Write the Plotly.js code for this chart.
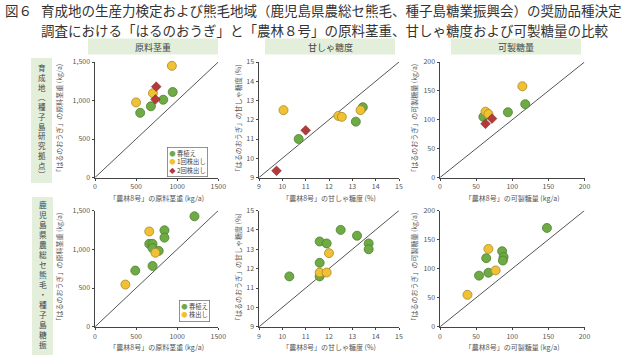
<!DOCTYPE html>
<html><head><meta charset="utf-8">
<script src="https://cdn.plot.ly/plotly-3.0.1.min.js"></script>
<style>html,body{margin:0;padding:0;background:#fff}#c{width:640px;height:355px}</style>
</head><body><div id="c"></div>
<script>
// ---- data ----
const weightRange = [0, 1500];
const brixRange = [9, 15];
const sugarRange = [0, 200];

// 育成地（種子島研究拠点）
const weightTopSpringX = [550, 680, 830, 945];
const weightTopSpringY = [840, 925, 1010, 1110];
const weightTopRatoon1X = [500, 705, 935];
const weightTopRatoon1Y = [975, 1095, 1450];
const weightTopRatoon2X = [745, 735];
const weightTopRatoon2Y = [1180, 1015];

const brixTopSpringX = [10.7, 13.15, 13.45];
const brixTopSpringY = [11.0, 11.9, 12.65];
const brixTopRatoon1X = [10.05, 12.4, 12.55, 13.35];
const brixTopRatoon1Y = [12.5, 12.2, 12.15, 12.5];
const brixTopRatoon2X = [11.0, 9.75];
const brixTopRatoon2Y = [11.45, 9.35];

const sugarTopSpringX = [60, 94, 118];
const sugarTopSpringY = [105, 113, 127];
const sugarTopRatoon1X = [63, 67, 114];
const sugarTopRatoon1Y = [114, 110, 158];
const sugarTopRatoon2X = [63, 72];
const sugarTopRatoon2Y = [93, 102];

// 鹿児島県農総セ熊毛・種子島糖振
const weightBotSpringX = [1210, 845, 845, 660, 700, 700, 775, 700, 490];
const weightBotSpringY = [1425, 1245, 1150, 1070, 1070, 1015, 980, 785, 725];
const weightBotRatoonX = [660, 735, 370];
const weightBotRatoonY = [1230, 955, 545];

const brixBotSpringX = [10.3, 11.6, 11.9, 11.6, 11.6, 12.5, 13.2, 13.7, 13.7];
const brixBotSpringY = [11.6, 13.4, 13.3, 12.3, 11.6, 14.0, 13.7, 13.3, 13.0];
const brixBotRatoonX = [12.0, 11.6, 11.9];
const brixBotRatoonY = [12.8, 11.8, 11.8];

const sugarBotSpringX = [148, 86, 88, 87, 64, 67, 54];
const sugarBotSpringY = [170, 130, 120, 114, 118, 93, 88];
const sugarBotRatoonX = [67, 77, 38];
const sugarBotRatoonY = [134, 97, 55];

const columnHeaders = ['原料茎重', '甘しゃ糖度', '可製糖量'];
const xTitles = ['「農林8号」の原料茎重 (kg/a)', '「農林8号」の甘しゃ糖度 (%)', '「農林8号」の可製糖量 (kg/a)'];
const yTitles = ['「はるのおうぎ」の原料茎重 (kg/a)', '「はるのおうぎ」の甘しゃ糖度 (%)', '「はるのおうぎ」の可製糖量 (kg/a)'];
const rowLabels = ['育成地︵種子島研究拠点︶', '鹿児島県農総セ熊毛・種子島糖振'];
const legendTop = ['春植え', '1回株出し', '2回株出し'];
const legendBot = ['春植え', '株出し'];
const figLabel = '図６';
const titleLine1 = '育成地の生産力検定および熊毛地域（鹿児島県農総セ熊毛、種子島糖業振興会）の奨励品種決定';
const titleLine2 = '調査における「はるのおうぎ」と「農林８号」の原料茎重、甘しゃ糖度および可製糖量の比較';

// ---- styles ----
const FONT = '"Noto Sans CJK JP", "Noto Sans", sans-serif';
const GREEN = '#6fab45', GREEN_L = '#4b7d2c';
const YELLOW = '#f0c233', YELLOW_L = '#a9862a';
const RED = '#b33a3a', RED_L = '#7a2424';
const BOX = '#e3efdb';

function circ(c, l) { return {symbol: 'circle', size: 9, color: c, line: {color: l, width: 0.8}}; }
function dia() { return {symbol: 'diamond', size: 7.5, color: RED, line: {color: RED_L, width: 0.5}}; }

const traces = [];
function addPanel(n, range, series) {
  const xa = n === 1 ? 'x' : 'x' + n, ya = n === 1 ? 'y' : 'y' + n;
  traces.push({x: range, y: range, xaxis: xa, yaxis: ya, mode: 'lines',
    line: {color: '#555', width: 1}, hoverinfo: 'skip', showlegend: false});
  series.forEach(s => traces.push({x: s[0], y: s[1], xaxis: xa, yaxis: ya, mode: 'markers',
    marker: s[2], showlegend: false, cliponaxis: false}));
}
addPanel(1, weightRange, [[weightTopSpringX, weightTopSpringY, circ(GREEN, GREEN_L)],
  [weightTopRatoon1X, weightTopRatoon1Y, circ(YELLOW, YELLOW_L)], [weightTopRatoon2X, weightTopRatoon2Y, dia()]]);
addPanel(2, brixRange, [[brixTopSpringX, brixTopSpringY, circ(GREEN, GREEN_L)],
  [brixTopRatoon1X, brixTopRatoon1Y, circ(YELLOW, YELLOW_L)], [brixTopRatoon2X, brixTopRatoon2Y, dia()]]);
addPanel(3, sugarRange, [[sugarTopSpringX, sugarTopSpringY, circ(GREEN, GREEN_L)],
  [sugarTopRatoon1X, sugarTopRatoon1Y, circ(YELLOW, YELLOW_L)], [sugarTopRatoon2X, sugarTopRatoon2Y, dia()]]);
addPanel(4, weightRange, [[weightBotSpringX, weightBotSpringY, circ(GREEN, GREEN_L)],
  [weightBotRatoonX, weightBotRatoonY, circ(YELLOW, YELLOW_L)]]);
addPanel(5, brixRange, [[brixBotSpringX, brixBotSpringY, circ(GREEN, GREEN_L)],
  [brixBotRatoonX, brixBotRatoonY, circ(YELLOW, YELLOW_L)]]);
addPanel(6, sugarRange, [[sugarBotSpringX, sugarBotSpringY, circ(GREEN, GREEN_L)],
  [sugarBotRatoonX, sugarBotRatoonY, circ(YELLOW, YELLOW_L)]]);

const W = 640, H = 355;
const px = v => v / W, py = v => 1 - v / H;
const colX = [[95, 218.3], [259, 399], [440, 584.5]];
const rowY = [[62, 177.5], [210.5, 326.8]];
const ranges = [weightRange, brixRange, sugarRange];
const dticks = [500, 1, 50];
const yStand = [9, 3, 4];

const layout = {width: W, height: H, margin: {l: 0, r: 0, t: 0, b: 0},
  paper_bgcolor: '#fff', plot_bgcolor: 'rgba(0,0,0,0)', showlegend: false,
  font: {family: FONT, color: '#555'}, shapes: [], annotations: []};

for (let r = 0; r < 2; r++) {
  for (let c = 0; c < 3; c++) {
    const n = r * 3 + c + 1;
    const xk = n === 1 ? 'xaxis' : 'xaxis' + n, yk = n === 1 ? 'yaxis' : 'yaxis' + n;
    const xa = n === 1 ? 'x' : 'x' + n, ya = n === 1 ? 'y' : 'y' + n;
    const common = {showgrid: false, zeroline: false, showline: true, linecolor: '#444', linewidth: 1,
      ticks: 'outside', ticklen: 2.5, tickcolor: '#444', tickwidth: 1, dtick: dticks[c],
      tickfont: {size: 7, family: FONT, color: '#555'}, fixedrange: true};
    layout[xk] = Object.assign({}, common, {domain: [px(colX[c][0]), px(colX[c][1])], range: ranges[c],
      anchor: ya, tickformat: 'd',
      title: {text: xTitles[c], font: {size: 7, family: FONT, color: '#555'}, standoff: 5}});
    layout[yk] = Object.assign({}, common, {domain: [py(rowY[r][1]), py(rowY[r][0])], range: ranges[c],
      anchor: xa, tickformat: c === 0 ? ',d' : 'd',
      title: {text: yTitles[c], font: {size: 7, family: FONT, color: '#555'}, standoff: yStand[c]}});
  }
}

// column header boxes
const headBoxes = [[88, 218], [265, 395], [451, 581]];
headBoxes.forEach((b, i) => {
  layout.shapes.push({type: 'rect', xref: 'paper', yref: 'paper', x0: px(b[0]), x1: px(b[1]),
    y0: py(54.5), y1: py(38.5), fillcolor: BOX, line: {width: 0}, layer: 'below'});
  layout.annotations.push({xref: 'paper', yref: 'paper', x: px((b[0] + b[1]) / 2), y: py(47),
    text: columnHeaders[i], showarrow: false, xanchor: 'center', yanchor: 'middle',
    font: {size: 9, family: FONT, color: '#444'}});
});

// row label boxes (vertical text, one character per line)
const rowBoxes = [{x0: 31, x1: 52, y0: 58, y1: 183, size: 7.5},
                  {x0: 32, x1: 53, y0: 197, y1: 355, size: 7.7}];
rowBoxes.forEach((b, i) => {
  layout.shapes.push({type: 'rect', xref: 'paper', yref: 'paper', x0: px(b.x0), x1: px(b.x1),
    y0: py(b.y1), y1: py(b.y0), fillcolor: BOX, line: {width: 0}, layer: 'below'});
  layout.annotations.push({xref: 'paper', yref: 'paper',
    x: px((b.x0 + b.x1) / 2), y: py((b.y0 + b.y1) / 2 + (i === 1 ? -2 : 0)),
    text: Array.from(rowLabels[i]).join('<br>'), showarrow: false,
    xanchor: 'center', yanchor: 'middle', align: 'center',
    font: {size: b.size, family: FONT, color: '#444'}});
});

// title
const tFont = {size: 13.5, family: FONT, color: '#333'};
layout.annotations.push({xref: 'paper', yref: 'paper', x: px(3), y: py(10.2), text: figLabel,
  showarrow: false, xanchor: 'left', yanchor: 'middle', font: tFont});
layout.annotations.push({xref: 'paper', yref: 'paper', x: px(39), y: py(10.2), text: titleLine1,
  showarrow: false, xanchor: 'left', yanchor: 'middle', font: tFont});
layout.annotations.push({xref: 'paper', yref: 'paper', x: px(39), y: py(29.6), text: titleLine2,
  showarrow: false, xanchor: 'left', yanchor: 'middle', font: tFont});

// legends (boxed annotations)
const legTopText = [
  '<span style="color:' + GREEN + '">●</span> ' + legendTop[0],
  '<span style="color:' + YELLOW + '">●</span> ' + legendTop[1],
  '<span style="color:' + RED + '">◆</span> ' + legendTop[2]].join('<br>');
layout.annotations.push({xref: 'paper', yref: 'paper', x: px(167), y: py(147), text: legTopText,
  showarrow: false, xanchor: 'left', yanchor: 'top', align: 'left', bordercolor: '#777', borderwidth: 0.8,
  borderpad: 1.5, bgcolor: '#fff', font: {size: 6.3, family: FONT, color: '#444'}});
const legBotText = [
  '<span style="color:' + GREEN + '">●</span> ' + legendBot[0],
  '<span style="color:' + YELLOW + '">●</span> ' + legendBot[1]].join('<br>');
layout.annotations.push({xref: 'paper', yref: 'paper', x: px(179), y: py(300), text: legBotText,
  showarrow: false, xanchor: 'left', yanchor: 'top', align: 'left', bordercolor: '#777', borderwidth: 0.8,
  borderpad: 1.5, bgcolor: '#fff', font: {size: 6.3, family: FONT, color: '#444'}});

Plotly.newPlot('c', traces, layout, {staticPlot: true, displayModeBar: false});
</script></body></html>
